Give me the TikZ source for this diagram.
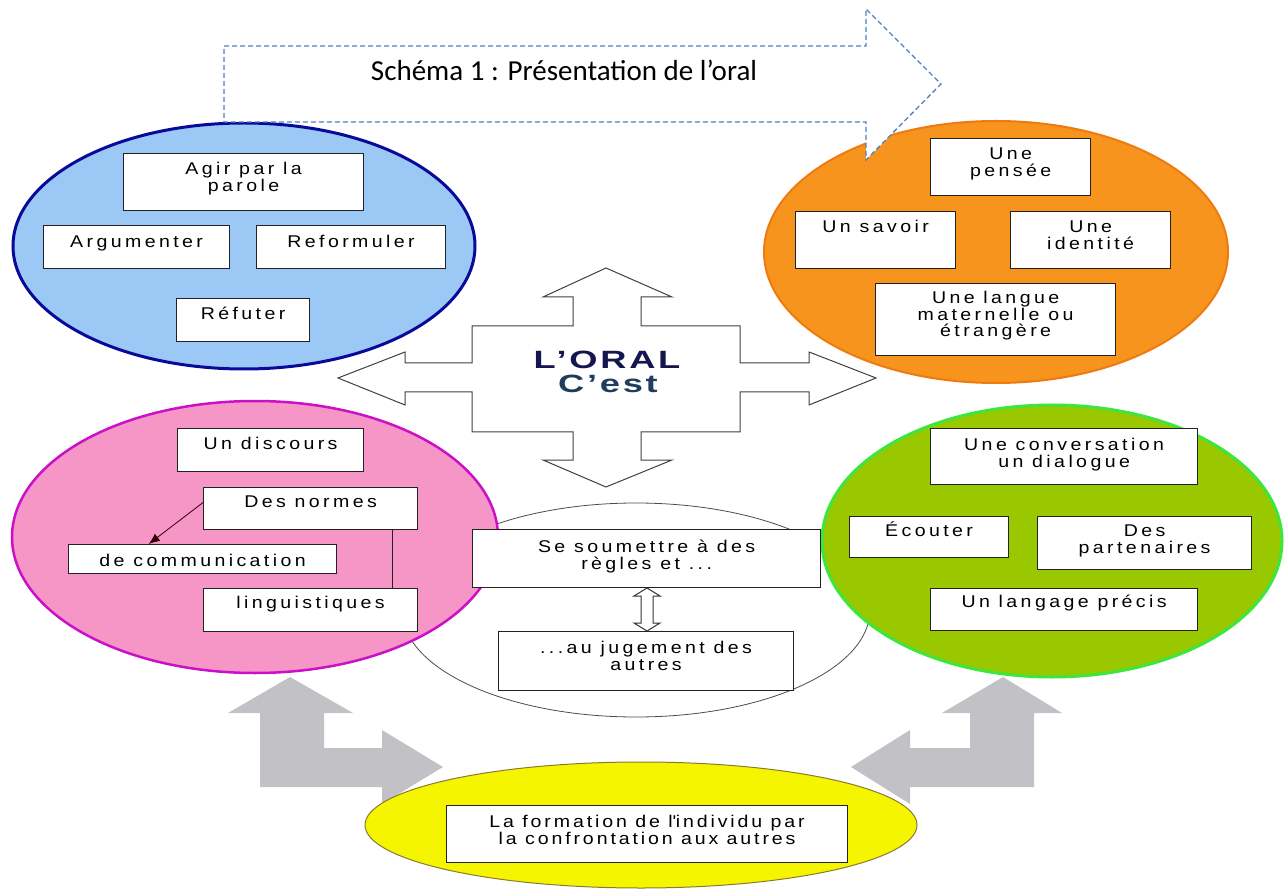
\documentclass[tikz,border=0pt]{standalone}
\usepackage{fontspec}
\usetikzlibrary{shapes.geometric,arrows.meta,calc}
\setmainfont{Liberation Sans}
\newfontfamily\boxfont[LetterSpace=20,FakeStretch=1.15]{Liberation Sans}
\newfontfamily\formfont[LetterSpace=17,FakeStretch=1.15]{Liberation Sans}
\newfontfamily\oralfont[LetterSpace=11,FakeStretch=1.45]{Liberation Sans}
\newfontfamily\titlefont{Carlito}
\definecolor{blueFill}{HTML}{9CC8F5}
\definecolor{blueLine}{HTML}{0A0A9A}
\definecolor{orangeFill}{HTML}{F7941D}
\definecolor{orangeLine}{HTML}{EE7A10}
\definecolor{pinkFill}{HTML}{F596C6}
\definecolor{pinkLine}{HTML}{CC10C8}
\definecolor{greenFill}{HTML}{99C800}
\definecolor{greenLine}{HTML}{3CE63C}
\definecolor{yellowFill}{HTML}{F5F500}
\definecolor{yellowLine}{HTML}{8A7A30}
\definecolor{grayArrow}{HTML}{C2C2C6}
\definecolor{dashBlue}{HTML}{4F81BD}
\definecolor{oralNavy}{HTML}{15154F}
\definecolor{cestBlue}{HTML}{203D5E}
\definecolor{boxLine}{HTML}{222222}
\newcommand{\bt}[4]{\parbox[c][#2pt][t]{#1pt}{\centering\rule{0pt}{#3pt}#4}}
\begin{document}
\begin{tikzpicture}[x=1pt,y=-1pt,
  ell/.style={ellipse,inner sep=0pt},
  bx/.style={draw=boxLine,fill=white,line width=1.2pt,inner sep=0pt,anchor=north west,
    font=\boxfont\fontsize{17}{16.5}\selectfont,text=black},
  grayarr/.style={fill=grayArrow,draw=none},
  crossarr/.style={draw=black!75,fill=white,line width=1pt,line join=miter},
  titlearr/.style={draw=dashBlue,fill=white,line width=1.3pt,dash pattern=on 5pt off 3pt}
]
\useasboundingbox (0,0) rectangle (1288,890);

% gray bent arrows
\draw[grayarr] (290,677) -- (353,713) -- (324,713) -- (324,748) -- (382,748) -- (382,730)
  -- (443,767) -- (382,804) -- (382,787) -- (260,787) -- (260,713) -- (228,713) -- cycle;
\draw[grayarr] (1003,677) -- (1062,713) -- (1034,713) -- (1034,787) -- (910,787) -- (910,804)
  -- (851,767) -- (910,730) -- (910,748) -- (970,748) -- (970,713) -- (942,713) -- cycle;

% ellipses
\node[ell,draw=black!70,fill=white,line width=0.8pt,minimum width=468pt,minimum height=214pt] (centerE) at (636,610) {};
\node[ell,draw=blueLine,fill=blueFill,line width=3pt,minimum width=462pt,minimum height=246pt] (blueE) at (244,246) {};
\node[ell,draw=orangeLine,fill=orangeFill,line width=2pt,minimum width=464pt,minimum height=262pt] (orangeE) at (996,252) {};
\node[ell,draw=pinkLine,fill=pinkFill,line width=2.5pt,minimum width=486pt,minimum height=272pt] (pinkE) at (255,537) {};
\node[ell,draw=greenLine,fill=greenFill,line width=3pt,minimum width=460pt,minimum height=272pt] (greenE) at (1052,541) {};
\node[ell,draw=yellowLine,fill=yellowFill,line width=1pt,minimum width=552pt,minimum height=126pt] (yellowE) at (641,825) {};

% central cross arrow
\draw[crossarr] (606,268) -- (672,297) -- (641,297) -- (641,326) -- (740,326) -- (740,363)
  -- (809,363) -- (809,352) -- (876,378) -- (809,405) -- (809,392) -- (740,392) -- (740,432)
  -- (641,432) -- (641,460) -- (672,460) -- (606,487) -- (543,460) -- (573,460) -- (573,432)
  -- (472,432) -- (472,392) -- (405,392) -- (405,405) -- (338,378) -- (405,352) -- (405,363)
  -- (472,363) -- (472,326) -- (573,326) -- (573,297) -- (543,297) -- cycle;
\node[anchor=base,text=oralNavy,font=\oralfont\bfseries\fontsize{25}{27}\selectfont] (oral) at (607,369) {L’ORAL};
\node[anchor=base,text=cestBlue,font=\oralfont\bfseries\fontsize{25}{27}\selectfont] (cest) at (608,393) {C’est};

% blue boxes
\node[bx] (agir) at (123,153) {\bt{240}{57}{21}{Agir par la\\parole}};
\node[bx] (argum) at (43,225) {\bt{186}{43}{22}{Argumenter}};
\node[bx] (reform) at (256,225) {\bt{189}{43}{22}{Reformuler}};
\node[bx] (refut) at (176,298) {\bt{133}{43}{21}{Réfuter}};

% orange boxes
\node[bx] (pensee) at (930,138) {\bt{160}{57}{21}{Une\\pensée}};
\node[bx] (savoir) at (795,211) {\bt{160}{57}{21}{Un savoir}};
\node[bx] (ident) at (1010,211) {\bt{160}{57}{21}{Une\\identité}};
\node[bx] (langue) at (875,283) {\bt{240}{72}{20}{Une langue\\maternelle ou\\étrangère}};

% pink boxes
\node[bx] (discours) at (177,428) {\bt{186}{43}{21}{Un discours}};
\node[bx] (normes) at (203,487) {\bt{214}{42}{20}{Des normes}};
\node[bx] (comm) at (68,544) {\bt{268}{29}{22}{de communication}};
\node[bx] (ling) at (203,588) {\bt{214}{43}{20}{linguistiques}};
\draw[line width=1.2pt,boxLine] ($(normes.south west)!0.88!(normes.south east)$) -- ($(ling.north west)!0.88!(ling.north east)$);
\draw[line width=0.8pt,color=black!80!red,-{Latex[length=11pt,width=9pt]}]
  ($(normes.north west)!0.36!(normes.south west)$) -- ($(comm.north west)!0.3!(comm.north east)$);

% center boxes
\node[bx] (soum) at (472,529) {\bt{348}{58}{23}{Se soumettre à des\\règles et ...}};
\node[bx] (jug) at (498,631) {\bt{295}{59}{22}{...au jugement des\\autres}};
\draw[draw=black!80,fill=white,line width=1pt] (647,588) -- (660,596) -- (653,596) -- (653,623)
  -- (660,623) -- (647,631) -- (634,623) -- (641,623) -- (641,596) -- (634,596) -- cycle;

% green boxes
\node[bx] (conv) at (930,428) {\bt{267}{56}{22}{Une conversation\\un dialogue}};
\node[bx] (ecout) at (849,516) {\bt{159}{41}{20}{Écouter}};
\node[bx] (parten) at (1037,516) {\bt{214}{53}{20}{Des\\partenaires}};
\node[bx] (langage) at (930,588) {\bt{267}{42}{19}{Un langage précis}};

% yellow box
\node[bx,font=\formfont\fontsize{17}{17}\selectfont] (form) at (446,805) {\bt{401}{57}{22}{La formation de l\textquotesingle individu par\\la confrontation aux autres}};

% title arrow
\draw[titlearr] (224,46) -- (866,46) -- (866,9) -- (941,84) -- (866,160) -- (866,122) -- (224,122) -- cycle;
\node[anchor=base,font=\titlefont\fontsize{29}{31}\selectfont] (title) at (564,81) {Schéma 1 : Présentation de l’oral};
\end{tikzpicture}
\end{document}
